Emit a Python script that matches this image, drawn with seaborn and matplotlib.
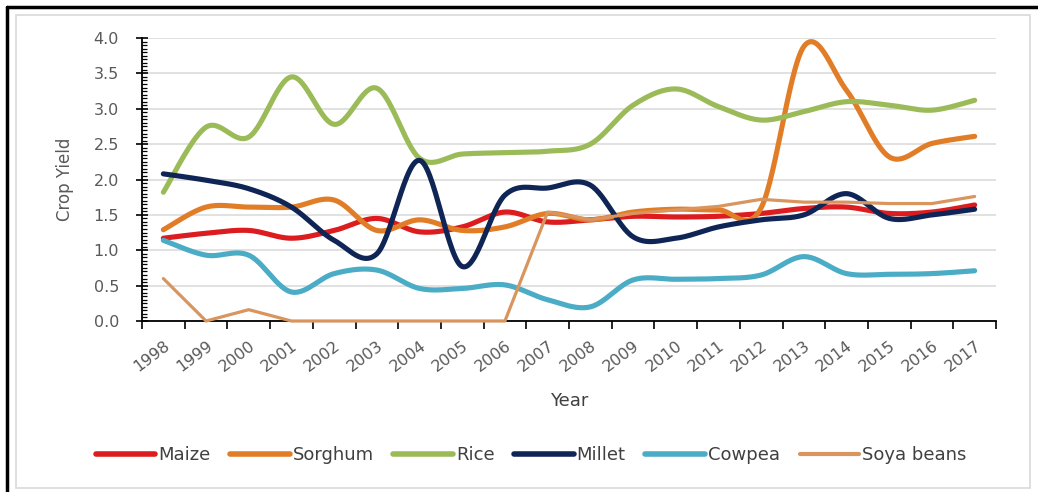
import numpy as np
import pandas as pd
import matplotlib
matplotlib.use("Agg")
import matplotlib.pyplot as plt
from matplotlib.lines import Line2D
import seaborn as sns

years = list(range(1998, 2018))
crops = ["Maize", "Sorghum", "Rice", "Millet", "Cowpea", "Soya beans"]

maize = [1.17, 1.24, 1.28, 1.17, 1.28, 1.45, 1.26, 1.33, 1.54, 1.40,
         1.43, 1.48, 1.47, 1.48, 1.52, 1.59, 1.61, 1.52, 1.54, 1.64]
sorghum = [1.29, 1.61, 1.61, 1.61, 1.71, 1.28, 1.43, 1.28, 1.33, 1.52,
           1.43, 1.54, 1.58, 1.57, 1.60, 3.88, 3.26, 2.32, 2.51, 2.61]
rice = [1.82, 2.74, 2.60, 3.45, 2.78, 3.29, 2.30, 2.36, 2.38, 2.40,
        2.50, 3.05, 3.28, 3.03, 2.84, 2.96, 3.10, 3.05, 2.98, 3.12]
millet = [2.08, 1.99, 1.87, 1.61, 1.14, 0.95, 2.27, 0.77, 1.78, 1.88,
          1.92, 1.19, 1.17, 1.33, 1.43, 1.50, 1.80, 1.45, 1.50, 1.58]
cowpea = [1.14, 0.93, 0.93, 0.41, 0.67, 0.72, 0.46, 0.46, 0.51, 0.30,
          0.20, 0.58, 0.59, 0.60, 0.65, 0.91, 0.67, 0.66, 0.67, 0.71]
soya = [0.60, 0.00, 0.16, 0.00, 0.00, 0.00, 0.00, 0.00, 0.00, 1.54,
        1.43, 1.52, 1.57, 1.62, 1.72, 1.68, 1.68, 1.66, 1.66, 1.76]

colors = ["#DC1C1F", "#E27D27", "#9BBB59", "#0F2556", "#4BACC6", "#D9955E"]
smoothed = [True, True, True, True, True, False]
series = [maize, sorghum, rice, millet, cowpea, soya]


def bezier_smooth(xs, ys, n=30):
    """Smooth curve through the points (cubic Bezier with Catmull-Rom handles)."""
    P = np.column_stack([xs, ys]).astype(float)
    Pp = np.vstack([P[0], P, P[-1]])
    t = np.linspace(0, 1, n, endpoint=False)[:, None]
    parts = []
    for i in range(len(P) - 1):
        p0, p1, p2, p3 = Pp[i], Pp[i + 1], Pp[i + 2], Pp[i + 3]
        c1 = p1 + (p2 - p0) / 6
        c2 = p2 - (p3 - p1) / 6
        parts.append((1 - t) ** 3 * p1 + 3 * (1 - t) ** 2 * t * c1
                     + 3 * (1 - t) * t ** 2 * c2 + t ** 3 * p2)
    parts.append(P[-1:])
    return np.vstack(parts)


sns.set_theme(style="white")
plt.rcParams["font.family"] = ["DejaVu Sans"]

fig = plt.figure(figsize=(10.38, 4.92), dpi=100)
ax = fig.add_axes([142 / 1038, 1 - 321 / 492, 854 / 1038, 283 / 492])

xpos = np.arange(len(years))
handles = []
for i, (name, vals, col, sm) in enumerate(zip(crops, series, colors, smoothed)):
    if sm:
        pts = bezier_smooth(xpos, vals)
    else:
        pts = np.column_stack([xpos, vals])
    df = pd.DataFrame({"x": pts[:, 0], "y": pts[:, 1]})
    lw = 3.7 if sm else 2.3
    sns.lineplot(data=df, x="x", y="y", sort=False, estimator=None,
                 color=col, linewidth=lw, ax=ax, zorder=3 + i,
                 solid_capstyle="round", solid_joinstyle="round")
    if not sm:
        ax.lines[-1].set_clip_on(False)
    handles.append(Line2D([0], [0], color=col, lw=4.0 if sm else 3.0,
                          solid_capstyle="round"))

ax.set_xlim(-0.5, len(years) - 0.5)
ax.set_ylim(0, 4.0)

# y axis
yt = np.arange(0, 4.01, 0.5)
ax.set_yticks(yt)
ax.set_yticklabels([f"{v:.1f}" for v in yt], fontsize=11.5, color="#595959")
ax.set_yticks(np.arange(0, 4.001, 0.05), minor=True)
ax.tick_params(axis="y", which="major", direction="inout", length=9, width=1.2,
               color="black", pad=12, left=True)
ax.tick_params(axis="y", which="minor", direction="in", length=3.5, width=0.9,
               color="black", left=True)

# x axis: labels at category centres, ticks at category boundaries
ax.set_xticks(xpos)
ax.set_xticklabels([str(y) for y in years], rotation=37, ha="right",
                   rotation_mode="anchor", fontsize=11.5, color="#595959")
ax.set_xticks(np.arange(-0.5, len(years), 1.0), minor=True)
ax.tick_params(axis="x", which="major", length=0, pad=12, bottom=False)
ax.tick_params(axis="x", which="minor", direction="out", length=6, width=1.2,
               color="black", bottom=True)

ax.yaxis.grid(True, color="#D9D9D9", linewidth=1.1)
ax.xaxis.grid(False)
ax.set_axisbelow(True)

for side in ["top", "right"]:
    ax.spines[side].set_visible(False)
for side in ["left", "bottom"]:
    ax.spines[side].set_color("black")
    ax.spines[side].set_linewidth(1.3)
    ax.spines[side].set_zorder(2.5)

ax.set_xlabel("Year", fontsize=13, color="#404040", labelpad=13)
ax.set_ylabel("Crop Yield", fontsize=12, color="#595959", labelpad=14)

fig.legend(handles, crops, loc="center", bbox_to_anchor=(531 / 1038, 1 - 455 / 492),
           ncol=6, frameon=False, fontsize=13, handlelength=3.3,
           handletextpad=0.15, columnspacing=1.1, labelcolor="#404040")

# chart frame
fig.add_artist(plt.Rectangle((16 / 1038, 1 - 488 / 492), 1014 / 1038, 473 / 492,
                             transform=fig.transFigure, fill=False,
                             edgecolor="#D9D9D9", linewidth=1.2))
fig.add_artist(Line2D([7 / 1038, 1.0], [1 - 7 / 492, 1 - 7 / 492],
                      transform=fig.transFigure, color="black", linewidth=2.5))
fig.add_artist(Line2D([7 / 1038, 7 / 1038], [0.0, 1 - 7 / 492],
                      transform=fig.transFigure, color="black", linewidth=2.5))

fig.savefig("out.png", dpi=100, facecolor="white")
